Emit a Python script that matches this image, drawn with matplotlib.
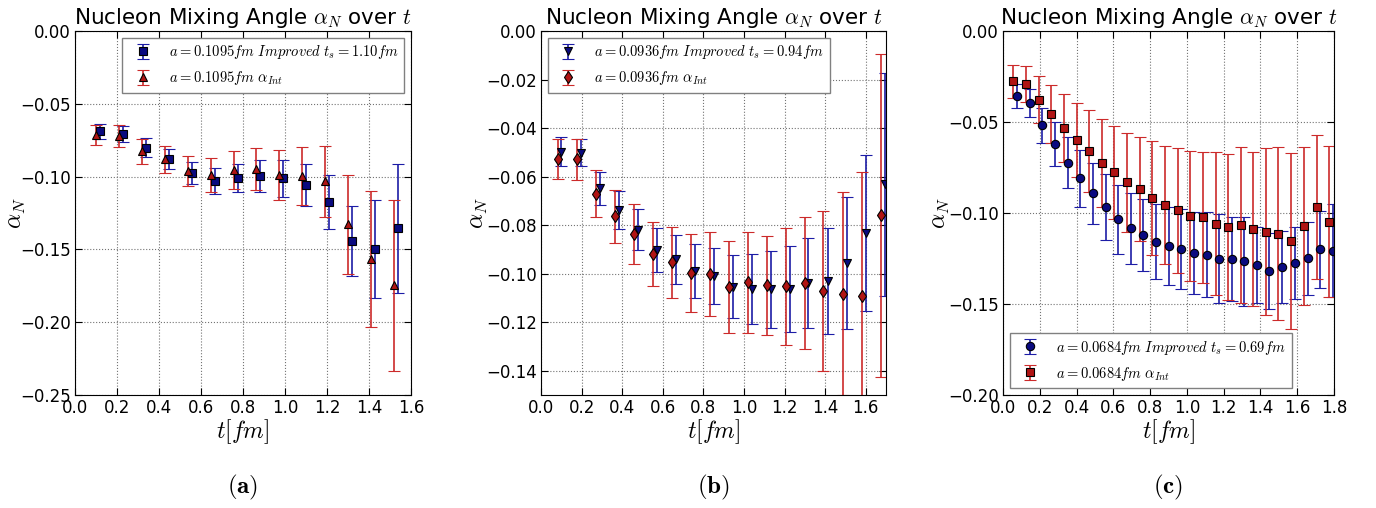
import numpy as np
import matplotlib
matplotlib.use("Agg")
import matplotlib.pyplot as plt

plt.rcParams["mathtext.fontset"] = "cm"
plt.rcParams["xtick.direction"] = "in"
plt.rcParams["ytick.direction"] = "in"
plt.rcParams["xtick.top"] = True
plt.rcParams["ytick.right"] = True
plt.rcParams["xtick.major.size"] = 5
plt.rcParams["ytick.major.size"] = 5

# panel (a): a = 0.1095 fm
t_a_imp = [0.119, 0.229, 0.337, 0.446, 0.555, 0.665, 0.775, 0.883, 0.992, 1.101, 1.210, 1.318, 1.427, 1.538]
y_a_imp = [-0.0689, -0.0705, -0.0801, -0.0879, -0.0975, -0.1028, -0.1010, -0.0996, -0.1012, -0.1058,
           -0.1174, -0.1442, -0.1500, -0.1355]
e_a_imp = [0.0052, 0.0055, 0.0063, 0.0070, 0.0078, 0.0089, 0.0095, 0.0110, 0.0126, 0.0147,
           0.0185, 0.0240, 0.0337, 0.0443]
t_a_int = [0.100, 0.209, 0.318, 0.427, 0.536, 0.646, 0.755, 0.864, 0.973, 1.082, 1.190, 1.299, 1.408, 1.517]
y_a_int = [-0.0714, -0.0721, -0.0826, -0.0881, -0.0964, -0.0991, -0.0955, -0.0950, -0.0989, -0.0996,
           -0.1033, -0.1328, -0.1568, -0.1747]
e_a_int = [0.0069, 0.0074, 0.0085, 0.0092, 0.0103, 0.0117, 0.0129, 0.0145, 0.0171, 0.0200,
           0.0246, 0.0341, 0.0467, 0.0585]
xt_a = [0.0, 0.2, 0.4, 0.6, 0.8, 1.0, 1.2, 1.4, 1.6]
yt_a = [-0.25, -0.20, -0.15, -0.10, -0.05, 0.0]

# panel (b): a = 0.0936 fm
t_b_imp = [0.100, 0.195, 0.289, 0.383, 0.476, 0.570, 0.663, 0.757, 0.850, 0.944, 1.038, 1.131,
           1.225, 1.318, 1.412, 1.506, 1.601, 1.695]
y_b_imp = [-0.0497, -0.0501, -0.0649, -0.0738, -0.0819, -0.0902, -0.0940, -0.0989, -0.1009, -0.1053,
           -0.1062, -0.1064, -0.1062, -0.1038, -0.1030, -0.0956, -0.0833, -0.0631]
e_b_imp = [0.0059, 0.0056, 0.0066, 0.0077, 0.0084, 0.0091, 0.0101, 0.0111, 0.0116, 0.0129,
           0.0144, 0.0158, 0.0178, 0.0184, 0.0220, 0.0270, 0.0320, 0.0459]
t_b_int = [0.082, 0.176, 0.269, 0.363, 0.456, 0.550, 0.644, 0.737, 0.831, 0.924, 1.018, 1.112,
           1.205, 1.299, 1.392, 1.486, 1.580, 1.673]
y_b_int = [-0.0527, -0.0529, -0.0671, -0.0764, -0.0836, -0.0920, -0.0953, -0.0998, -0.1002, -0.1055,
           -0.1036, -0.1048, -0.1052, -0.1038, -0.1071, -0.1082, -0.1093, -0.0760]
e_b_int = [0.0083, 0.0084, 0.0097, 0.0108, 0.0125, 0.0132, 0.0146, 0.0160, 0.0174, 0.0188,
           0.0207, 0.0205, 0.0242, 0.0272, 0.0329, 0.0420, 0.0514, 0.0667]
xt_b = [0.0, 0.2, 0.4, 0.6, 0.8, 1.0, 1.2, 1.4, 1.6]
yt_b = [-0.14, -0.12, -0.10, -0.08, -0.06, -0.04, -0.02, 0.0]

# panel (c): a = 0.0684 fm
t_c_imp = [0.078, 0.147, 0.214, 0.283, 0.351, 0.420, 0.489, 0.558, 0.627, 0.696, 0.764, 0.832, 0.900,
           0.969, 1.038, 1.107, 1.176, 1.245, 1.313, 1.380, 1.449, 1.518, 1.587, 1.656, 1.725, 1.793]
y_c_imp = [-0.0359, -0.0396, -0.0518, -0.0621, -0.0723, -0.0810, -0.0892, -0.0965, -0.1035, -0.1084,
           -0.1121, -0.1157, -0.1179, -0.1200, -0.1220, -0.1229, -0.1251, -0.1253, -0.1266, -0.1286,
           -0.1319, -0.1297, -0.1277, -0.1249, -0.1200, -0.1207]
e_c_imp = [0.0066, 0.0078, 0.0096, 0.0122, 0.0139, 0.0158, 0.0169, 0.0181, 0.0189, 0.0195,
           0.0200, 0.0207, 0.0214, 0.0220, 0.0227, 0.0234, 0.0244, 0.0230, 0.0245, 0.0210,
           0.0210, 0.0200, 0.0198, 0.0200, 0.0212, 0.0256]
t_c_int = [0.056, 0.125, 0.194, 0.263, 0.331, 0.400, 0.467, 0.536, 0.605, 0.674, 0.743, 0.812, 0.880,
           0.949, 1.018, 1.087, 1.156, 1.225, 1.293, 1.361, 1.429, 1.498, 1.567, 1.636, 1.705, 1.774]
y_c_int = [-0.0277, -0.0289, -0.0377, -0.0456, -0.0535, -0.0597, -0.0661, -0.0723, -0.0777, -0.0832,
           -0.0868, -0.0919, -0.0954, -0.0985, -0.1016, -0.1024, -0.1059, -0.1079, -0.1066, -0.1090,
           -0.1103, -0.1114, -0.1154, -0.1073, -0.0965, -0.1048]
e_c_int = [0.0092, 0.0099, 0.0129, 0.0161, 0.0187, 0.0203, 0.0225, 0.0242, 0.0256, 0.0274,
           0.0286, 0.0312, 0.0324, 0.0343, 0.0357, 0.0359, 0.0394, 0.0401, 0.0427, 0.0423,
           0.0460, 0.0476, 0.0482, 0.0434, 0.0396, 0.0414]
xt_c = [0.0, 0.2, 0.4, 0.6, 0.8, 1.0, 1.2, 1.4, 1.6, 1.8]
yt_c = [-0.20, -0.15, -0.10, -0.05, 0.0]

# layout in pixels: axes left, axes width, y-label centre x
panels = [
    dict(pos=[75, 336, 16], imp=(t_a_imp, y_a_imp, e_a_imp, "s"), intg=(t_a_int, y_a_int, e_a_int, "^"),
         a="0.1095", ts="1.10", xlim=(0, 1.6), ylim=(-0.25, 0.0), xt=xt_a, yt=yt_a,
         loc="upper right", cap="(a)"),
    dict(pos=[541, 345, 478], imp=(t_b_imp, y_b_imp, e_b_imp, "v"), intg=(t_b_int, y_b_int, e_b_int, "d"),
         a="0.0936", ts="0.94", xlim=(0, 1.7), ylim=(-0.15, 0.0), xt=xt_b, yt=yt_b,
         loc="upper left", cap="(b)"),
    dict(pos=[1003, 331, 940], imp=(t_c_imp, y_c_imp, e_c_imp, "o"), intg=(t_c_int, y_c_int, e_c_int, "s"),
         a="0.0684", ts="0.69", xlim=(0, 1.8), ylim=(-0.2, 0.0), xt=xt_c, yt=yt_c,
         loc="lower left", cap="(c)"),
]

W, H = 1376, 508
fig = plt.figure(figsize=(W / 100, H / 100), dpi=100)

for p in panels:
    left, width, ylab_x = p["pos"]
    ax = fig.add_axes([left / W, (H - 395) / H, width / W, 364 / H])
    t, y, e, m = p["imp"]
    ax.errorbar(t, y, yerr=e, fmt=m, color="#0a0a80", ecolor="#1c1ca6", mec="black", mew=0.8,
                ms=6, capsize=4, elinewidth=1.2,
                label=r"$a=%s fm\ Improved\ t_s=%s fm$" % (p["a"], p["ts"]))
    t, y, e, m = p["intg"]
    ax.errorbar(t, y, yerr=e, fmt=m, color="#b01414", ecolor="#cc2a2a", mec="black", mew=0.8,
                ms=6, capsize=4, elinewidth=1.2,
                label=r"$a=%s fm\ \alpha_{Int}$" % p["a"])
    ax.set_xlim(*p["xlim"])
    ax.set_ylim(*p["ylim"])
    ax.set_xticks(p["xt"])
    ax.set_yticks(p["yt"])
    ax.tick_params(labelsize=12, pad=3)
    ax.grid(True, color="0.45", linestyle=":", linewidth=0.8)
    ax.set_title(r"Nucleon Mixing Angle $\alpha_N$ over $t$", fontsize=15.5, pad=5)
    ax.set_xlabel(r"$t[fm]$", fontsize=17, labelpad=0)
    ax.set_ylabel(r"$\alpha_N$", fontsize=17, va="center")
    ax.yaxis.set_label_coords((ylab_x - left) / width, 0.5)
    ax.legend(loc=p["loc"], numpoints=1, fontsize=10.5, fancybox=False, framealpha=1,
              edgecolor="gray", borderaxespad=0.45, labelspacing=0.55)
    fig.text((left + width / 2) / W, (H - 487) / H, r"$\mathbf{%s}$" % p["cap"], fontsize=18,
             ha="center", va="center")

fig.savefig("out.png", dpi=100)
